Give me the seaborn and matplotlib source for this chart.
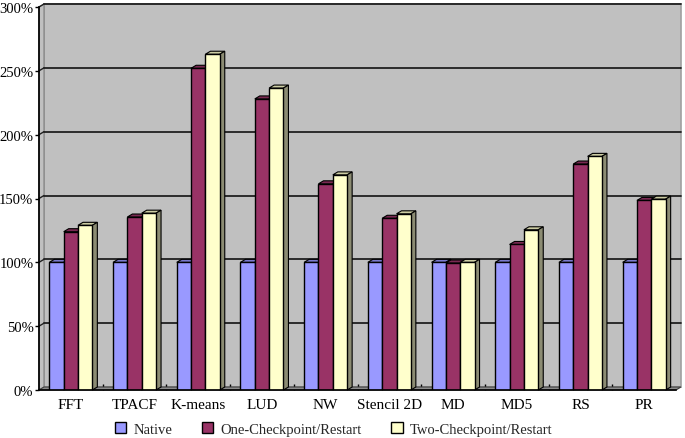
import numpy as np
import pandas as pd
import matplotlib
matplotlib.use("Agg")
import matplotlib.pyplot as plt
from matplotlib.patches import Polygon, Rectangle, Patch
from matplotlib.ticker import PercentFormatter, MultipleLocator
from matplotlib.colors import to_rgb
import seaborn as sns

# data (percent of native run time)
benchmarks = ["FFT", "TPACF", "K-means", "LUD", "NW", "Stencil 2D", "MD", "MD5", "RS", "PR"]
series = ["Native", "One-Checkpoint/Restart", "Two-Checkpoint/Restart"]
native = [100, 100, 100, 100, 100, 100, 100, 100, 100, 100]
one_ckpt = [124, 135.5, 252, 228, 161.5, 134.5, 99.5, 114, 177, 148.5]
two_ckpt = [129, 138.5, 263, 236.5, 168.5, 138, 100, 125.5, 183, 149.5]
colors = ["#9999FF", "#993366", "#FFFFCC"]

df = pd.DataFrame({
    "benchmark": benchmarks * 3,
    "series": np.repeat(series, len(benchmarks)),
    "value": native + one_ckpt + two_ckpt,
})

sns.set_theme(style="white")
plt.rcParams["font.family"] = ["Liberation Serif", "DejaVu Serif"]

fig = plt.figure(figsize=(6.85, 4.39), dpi=100)
W, H = 685, 439
left, right, bottom, top = 39, 676, 391, 8
ax = fig.add_axes([left / W, 1 - bottom / H, (right - left) / W, (bottom - top) / H])
ax.set_facecolor("none")

sns.barplot(
    data=df, x="benchmark", y="value", hue="series",
    hue_order=series, palette=colors, saturation=1,
    width=0.675, edgecolor="black", linewidth=1,
    legend=False, zorder=3, ax=ax,
)

ax.set_xlim(-0.5, len(benchmarks) - 0.5)
ax.set_ylim(0, 300)

# depth of the fake 3d (5 px right, 3 px up) in data units
ddx = 5 / ((right - left) / len(benchmarks))
ddy = 3 / ((bottom - top) / 300)
x0, x1 = -0.5, len(benchmarks) - 0.5

# walls and floor
ax.add_patch(Rectangle((x0 + ddx, ddy), x1 - x0, 300, facecolor="#C0C0C0",
                       edgecolor="#A0A0A0", lw=1.2, zorder=0, clip_on=False))
ax.add_patch(Polygon([(x0, 0), (x0, 300), (x0 + ddx, 300 + ddy), (x0 + ddx, ddy)],
                     closed=True, facecolor="#C0C0C0", edgecolor="#808080",
                     lw=0.8, zorder=0.2, clip_on=False))
ax.add_patch(Polygon([(x0, 0), (x1, 0), (x1 + ddx, ddy), (x0 + ddx, ddy)],
                     closed=True, facecolor="#8C8C8C", edgecolor="#404040",
                     lw=0.8, zorder=1, clip_on=False))
for y in range(50, 301, 50):
    ax.plot([x0 + ddx, x1 + ddx], [y + ddy, y + ddy], color="#202020", lw=1.3,
            zorder=0.5, clip_on=False)
    ax.plot([x0, x0 + ddx], [y, y + ddy], color="#202020", lw=1.0,
            zorder=0.5, clip_on=False)

# side and top faces of each bar
bars = [p for p in ax.patches if isinstance(p, Rectangle) and p.get_height() > 0
        and p.get_zorder() == 3]
for p in bars:
    bx, bw, bh = p.get_x(), p.get_width(), p.get_height()
    rgb = np.array(to_rgb(p.get_facecolor()))
    top_c = rgb * 0.8
    side_c = rgb * 0.5 + 0.05
    ax.add_patch(Polygon([(bx, bh), (bx + bw, bh), (bx + bw + ddx, bh + ddy), (bx + ddx, bh + ddy)],
                         closed=True, facecolor=top_c, edgecolor="black", lw=0.8,
                         zorder=2, clip_on=False))
    ax.add_patch(Polygon([(bx + bw, 0), (bx + bw + ddx, ddy), (bx + bw + ddx, bh + ddy), (bx + bw, bh)],
                         closed=True, facecolor=side_c, edgecolor="black", lw=0.8,
                         zorder=2, clip_on=False))

# axes styling
sns.despine(ax=ax, top=True, right=True)
ax.spines["left"].set_color("black")
ax.spines["left"].set_zorder(4)
ax.spines["bottom"].set_color("black")
ax.spines["bottom"].set_linewidth(1.2)
ax.spines["bottom"].set_zorder(4)
ax.yaxis.set_major_locator(MultipleLocator(50))
ax.yaxis.set_major_formatter(PercentFormatter(xmax=100, decimals=0))
ax.tick_params(axis="y", left=True, length=3, width=1, color="black",
               labelsize=10.5, pad=1)
ax.set_xticks(range(len(benchmarks)))
ax.set_xticks(np.arange(0.5, len(benchmarks) - 0.5, 1), minor=True)
ax.tick_params(axis="x", which="major", length=0, labelsize=11, pad=6)
ax.tick_params(axis="x", which="minor", bottom=True, direction="in",
               length=4, width=1, color="black")
ax.set_xlabel("")
ax.set_ylabel("")
for lab in ax.get_yticklabels() + ax.get_xticklabels():
    lab.set_color("black")

handles = [Patch(facecolor=c, edgecolor="black", lw=1) for c in colors]
fig.legend(handles, series, loc="center", bbox_to_anchor=(0.487, 1 - 430 / H),
           ncol=3, frameon=False, fontsize=10.5, handlelength=0.8,
           handleheight=0.8, handletextpad=0.5, columnspacing=2.0)

fig.savefig("out.png", dpi=100)
